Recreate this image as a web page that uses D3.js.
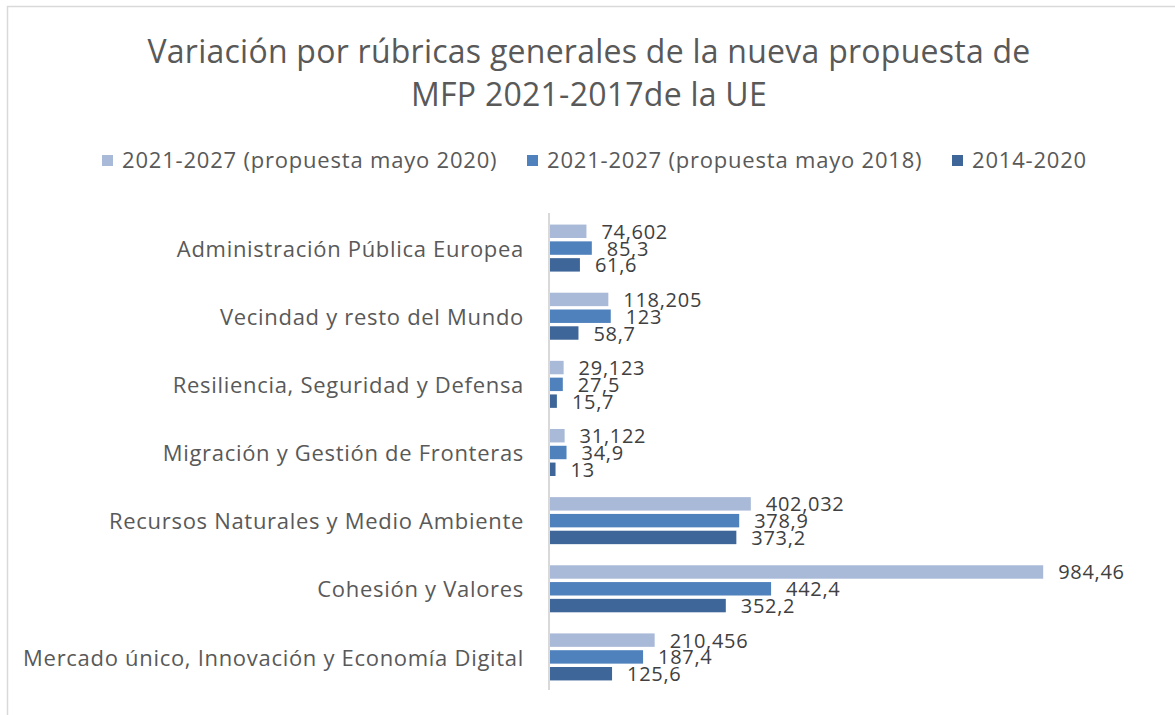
<!DOCTYPE html>
<html>
<head>
<meta charset="utf-8">
<script src="https://cdn.jsdelivr.net/npm/d3@7"></script>
<style>
  body { margin: 0; background: #fff; }
  svg { display: block; font-family: "Open Sans", "Noto Sans", sans-serif; }
</style>
</head>
<body>
<svg id="chart" width="1175" height="715"></svg>
<script>
const categories = [
  "Administración Pública Europea",
  "Vecindad y resto del Mundo",
  "Resiliencia, Seguridad y Defensa",
  "Migración y Gestión de Fronteras",
  "Recursos Naturales y Medio Ambiente",
  "Cohesión y Valores",
  "Mercado único, Innovación y Economía Digital"
];
const seriesNames = [
  "2021-2027 (propuesta mayo 2020)",
  "2021-2027 (propuesta mayo 2018)",
  "2014-2020"
];
const values2020 = [74.602, 118.205, 29.123, 31.122, 402.032, 984.46, 210.456];
const values2018 = [85.3, 123, 27.5, 34.9, 378.9, 442.4, 187.4];
const values2014 = [61.6, 58.7, 15.7, 13, 373.2, 352.2, 125.6];
const seriesColors = ["#a9b9d8", "#4f81bd", "#3e6698"];
const titleLines = ["Variación por rúbricas generales de la nueva propuesta de", "MFP 2021-2017de la UE"];

const seriesValues = [values2020, values2018, values2014];
const svg = d3.select("#chart");

// chart frame (top and left edges visible)
svg.append("rect").attr("x", 7.5).attr("y", 6.5).attr("width", 1200).attr("height", 800)
  .attr("fill", "none").attr("stroke", "#d9d9d9").attr("stroke-width", 1.5);

// title
svg.append("g").selectAll("text").data(titleLines).join("text")
  .attr("x", 589).attr("y", (d, i) => 63 + i * 43)
  .attr("text-anchor", "middle").attr("font-size", 32).attr("letter-spacing", 0.25)
  .attr("fill", "#595959")
  .text(d => d);

// legend
const legendX = [102, 527, 952];
const leg = svg.append("g").selectAll("g").data(seriesNames).join("g")
  .attr("transform", (d, i) => `translate(${legendX[i]},160)`);
leg.append("rect").attr("x", 0).attr("y", -5).attr("width", 11).attr("height", 11)
  .attr("fill", (d, i) => seriesColors[i]);
leg.append("text").attr("x", 20).attr("y", 0).attr("dy", "0.35em")
  .attr("font-size", 22).attr("letter-spacing", 0.8).attr("fill", "#595959").text(d => d);

// scales
const x = d3.scaleLinear().domain([0, 1000]).range([549, 1051]);
const y0 = d3.scaleBand().domain(categories).range([213, 690]).paddingInner(0.31).paddingOuter(0.155);
const y1 = d3.scaleBand().domain(seriesNames).range([0, y0.bandwidth()]).paddingInner(0.2);

// category labels
svg.append("g").selectAll("text").data(categories).join("text")
  .attr("x", 524).attr("y", d => y0(d) + y0.bandwidth() / 2 + 2).attr("dy", "0.35em")
  .attr("text-anchor", "end").attr("font-size", 22).attr("letter-spacing", 0.7)
  .attr("fill", "#595959")
  .text(d => d);

const fmt = v => String(v).replace(".", ",");

const groups = svg.append("g").selectAll("g").data(categories).join("g")
  .attr("transform", d => `translate(0,${y0(d)})`);

groups.each(function(cat, ci) {
  const g = d3.select(this);
  const rows = seriesNames.map((s, si) => ({ s, si, v: seriesValues[si][ci] }));
  g.selectAll("rect").data(rows).join("rect")
    .attr("x", x(0)).attr("y", d => y1(d.s) + 1)
    .attr("width", d => x(d.v) - x(0)).attr("height", y1.bandwidth())
    .attr("fill", d => seriesColors[d.si]);
  g.selectAll("text").data(rows).join("text")
    .attr("x", d => x(d.v) + 15).attr("y", d => y1(d.s) + y1.bandwidth() / 2 + 1.5)
    .attr("dy", "0.35em").attr("font-size", 20).attr("letter-spacing", 0.7)
    .attr("fill", "#404040")
    .text(d => fmt(d.v));
});

// axis line
svg.append("line").attr("x1", x(0)).attr("x2", x(0)).attr("y1", 213).attr("y2", 690)
  .attr("stroke", "#d9d9d9").attr("stroke-width", 2);
</script>
</body>
</html>
